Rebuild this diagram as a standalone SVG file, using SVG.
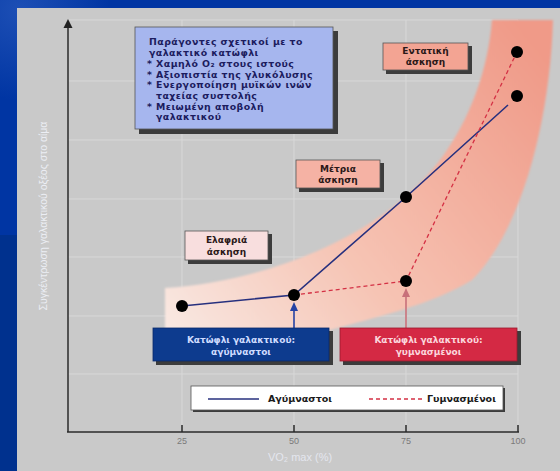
<svg xmlns="http://www.w3.org/2000/svg" width="560" height="471" viewBox="0 0 560 471">
<defs>
  <radialGradient id="bgGlow" cx="20" cy="10" r="90" gradientUnits="userSpaceOnUse">
    <stop offset="0" stop-color="#1d4fb5"/>
    <stop offset="1" stop-color="#0035a3"/>
  </radialGradient>
  <linearGradient id="band" x1="170" y1="330" x2="530" y2="40" gradientUnits="userSpaceOnUse">
    <stop offset="0" stop-color="#f9e8e2"/>
    <stop offset="0.4" stop-color="#f6c4b4"/>
    <stop offset="1" stop-color="#f09a88"/>
  </linearGradient>
  <filter id="soft" x="-5%" y="-5%" width="110%" height="110%">
    <feGaussianBlur stdDeviation="1.2"/>
  </filter>
</defs>
<style>
  .grid { stroke: #d8d8d8; stroke-width: 1; fill: none; }
  .axis { stroke: #2a2a2a; stroke-width: 1.5; fill: none; }
  .tick { font-family: "Liberation Sans", Arial, sans-serif; font-size: 9px; fill: #7a7a7a; text-anchor: middle; }
  .shadow { fill: #3c3c3c; }
  .box { stroke: #555; stroke-width: 0.8; }
  .lbl { font-family: "DejaVu Sans", "Liberation Sans", sans-serif; font-size: 9px; font-weight: bold; text-anchor: middle; }
  .info { font-family: "DejaVu Sans", "Liberation Sans", sans-serif; font-size: 9.4px; font-weight: bold; fill: #1c1c5e; letter-spacing: 0.45px; }
  .pt { fill: #000; }
  .blue { stroke: #27307e; stroke-width: 1.6; fill: none; }
  .red { stroke: #d43044; stroke-width: 1.3; stroke-dasharray: 4 3; fill: none; }
</style>

<!-- background -->
<rect x="0" y="0" width="560" height="471" fill="url(#bgGlow)"/>
<rect x="0" y="235" width="17" height="236" fill="#00318e"/>
<rect x="17" y="8" width="543" height="463" fill="#c9c9c9"/>

<!-- grid -->
<g id="grid">
  <path class="grid" d="M68,20 H518 M68,81 H518 M68,140 H518 M68,199 H518 M68,257 H518 M68,316 H518 M68,374 H518"/>
  <path class="grid" d="M182,20 V432 M294,20 V432 M406,20 V432 M518,20 V432"/>
</g>

<!-- band -->
<path id="band-shape" d="M165,288 C260,282 380,240 440,160 C470,120 488,70 492,20 L553,20 C550,120 522,230 472,280 C432,305 372,318 330,330 L165,345 Z" fill="url(#band)" filter="url(#soft)"/>

<!-- axes -->
<g id="axes">
  <line class="axis" x1="68" y1="432" x2="68" y2="26"/>
  <path d="M68,19 L63.5,28 L72.5,28 Z" fill="#222"/>
  <line class="axis" x1="67" y1="432" x2="519" y2="432"/>
  <path class="axis" d="M182,432 V425 M294,432 V425 M406,432 V425 M518,432 V425"/>
  <text class="tick" x="182" y="444">25</text>
  <text class="tick" x="294" y="444">50</text>
  <text class="tick" x="406" y="444">75</text>
  <text class="tick" x="518" y="444">100</text>
  <text x="300" y="461" font-family="Liberation Sans, Arial, sans-serif" font-size="11" fill="#e4e6ee" text-anchor="middle">VO₂ max (%)</text>
  <text transform="translate(47,216) rotate(-90)" font-family="Liberation Sans, Arial, sans-serif" font-size="10.5" fill="#eceef4" text-anchor="middle">Συγκέντρωση γαλακτικού οξέος στο αίμα</text>
</g>

<!-- connectors -->
<g id="connectors">
  <polyline class="blue" points="182,306 294,295 406,197 508,105"/>
  <polyline class="red" points="294,295 406,281 517,52"/>
  <line x1="294" y1="328" x2="294" y2="309" stroke="#2542a4" stroke-width="1.6"/>
  <path d="M294,302 L290,311 L298,311 Z" fill="#2542a4"/>
  <line x1="406" y1="328" x2="406" y2="295" stroke="#c8707a" stroke-width="1.6"/>
  <path d="M406,288 L402,297 L410,297 Z" fill="#c8707a"/>
</g>

<!-- data points -->
<g id="points">
  <circle class="pt" cx="182" cy="306" r="6"/>
  <circle class="pt" cx="294" cy="295" r="6"/>
  <circle class="pt" cx="406" cy="197" r="6"/>
  <circle class="pt" cx="517" cy="96" r="6"/>
  <circle class="pt" cx="406" cy="281" r="6"/>
  <circle class="pt" cx="517" cy="52" r="6"/>
</g>

<!-- info box -->
<g id="info-box">
  <rect class="shadow" x="139" y="31" width="199" height="103"/>
  <rect class="box" x="135" y="27" width="198" height="102" fill="#a6b6ee"/>
  <text class="info" x="149" y="45">Παράγοντες σχετικοί με το</text>
  <text class="info" x="149" y="56">γαλακτικό κατώφλι</text>
  <text class="info" x="147" y="67">* Χαμηλό O₂ στους ιστούς</text>
  <text class="info" x="147" y="77.5">* Αξιοπιστία της γλυκόλυσης</text>
  <text class="info" x="147" y="88">* Ενεργοποίηση μυϊκών ινών</text>
  <text class="info" x="156" y="98.5">ταχείας συστολής</text>
  <text class="info" x="147" y="109.5">* Μειωμένη αποβολή</text>
  <text class="info" x="156" y="120">γαλακτικού</text>
</g>

<!-- intensity labels -->
<g id="intense">
  <rect class="shadow" x="386" y="46" width="86" height="28"/>
  <rect class="box" x="383" y="43" width="85" height="27" fill="#f3a493"/>
  <text class="lbl" x="425.5" y="54" fill="#2a1818">Εντατική</text>
  <text class="lbl" x="425.5" y="65" fill="#2a1818">άσκηση</text>
</g>
<g id="moderate">
  <rect class="shadow" x="299" y="163" width="85" height="29"/>
  <rect class="box" x="296" y="160" width="84" height="28" fill="#f5b2a4"/>
  <text class="lbl" x="338" y="172" fill="#2a1818">Μέτρια</text>
  <text class="lbl" x="338" y="183" fill="#2a1818">άσκηση</text>
</g>
<g id="light">
  <rect class="shadow" x="188" y="234" width="84" height="30"/>
  <rect class="box" x="185" y="231" width="83" height="29" fill="#f8dede"/>
  <text class="lbl" x="226.5" y="243" fill="#2a1818">Ελαφριά</text>
  <text class="lbl" x="226.5" y="255" fill="#2a1818">άσκηση</text>
</g>

<!-- threshold boxes -->
<g id="threshold-untrained">
  <rect class="shadow" x="156" y="331" width="177" height="34"/>
  <rect x="153" y="328" width="176" height="33" fill="#0d3b8e" stroke="#0a2a6a" stroke-width="0.8"/>
  <text class="lbl" x="241" y="343" fill="#cfdcff" font-size="10">Κατώφλι γαλακτικού:</text>
  <text class="lbl" x="241" y="355" fill="#cfdcff" font-size="10">αγύμναστοι</text>
</g>
<g id="threshold-trained">
  <rect class="shadow" x="343" y="331" width="178" height="34"/>
  <rect x="340" y="328" width="177" height="33" fill="#d42944" stroke="#9a1a2e" stroke-width="0.8"/>
  <text class="lbl" x="428.5" y="343" fill="#fbd6dc" font-size="10">Κατώφλι γαλακτικού:</text>
  <text class="lbl" x="428.5" y="355" fill="#fbd6dc" font-size="10">γυμνασμένοι</text>
</g>

<!-- legend -->
<g id="legend">
  <rect class="shadow" x="193" y="388" width="312" height="24"/>
  <rect x="191" y="386" width="312" height="24" fill="#ffffff" stroke="#555" stroke-width="0.8"/>
  <line class="blue" x1="208" y1="399" x2="259" y2="399"/>
  <text x="268" y="402" font-family="DejaVu Sans, Liberation Sans, sans-serif" font-size="9.5" font-weight="bold" fill="#1a1a1a">Αγύμναστοι</text>
  <line class="red" x1="369" y1="399" x2="423" y2="399"/>
  <text x="427" y="402" font-family="DejaVu Sans, Liberation Sans, sans-serif" font-size="9.5" font-weight="bold" fill="#1a1a1a">Γυμνασμένοι</text>
</g>
</svg>
